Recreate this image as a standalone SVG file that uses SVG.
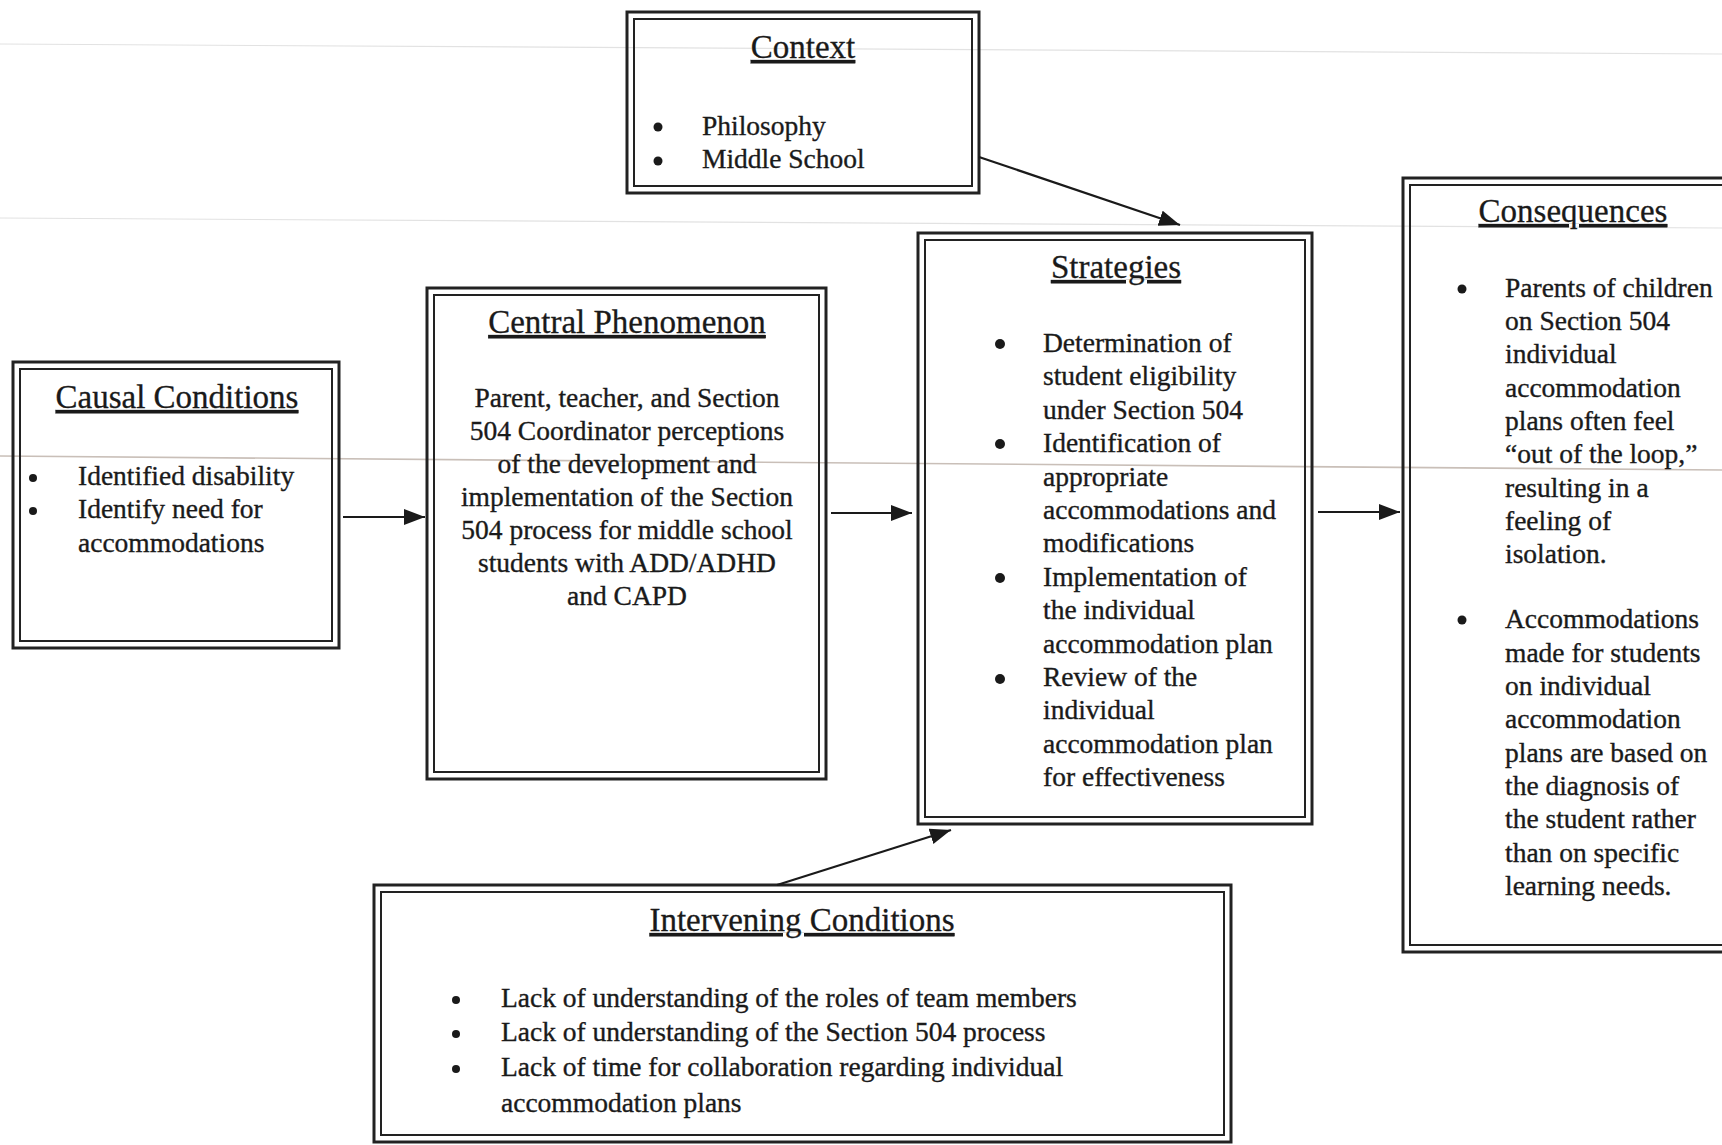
<svg xmlns="http://www.w3.org/2000/svg" width="1722" height="1145" viewBox="0 0 1722 1145">
<defs>
<style>
.o{fill:none;stroke:#222;stroke-width:3}
.i{fill:none;stroke:#222;stroke-width:2}
.t{font-family:"Liberation Serif","Times New Roman",serif;font-size:33px;fill:#1a1a1a;stroke:#1a1a1a;stroke-width:0.3;text-anchor:middle;text-decoration:underline}
.b{font-family:"Liberation Serif","Times New Roman",serif;font-size:27.5px;fill:#1a1a1a;stroke:#1a1a1a;stroke-width:0.35}
.c{text-anchor:middle}
.d{fill:#1a1a1a}
.a{stroke:#1a1a1a;stroke-width:2.2;fill:none}
.s{stroke:#e2e2e2;stroke-width:1.2;fill:none}
</style>
<marker id="ah" markerUnits="userSpaceOnUse" markerWidth="22" markerHeight="18" refX="21" refY="8" orient="auto">
<path d="M0,0 L21,8 L0,16 z" fill="#1a1a1a"/>
</marker>
</defs>
<rect width="1722" height="1145" fill="#fff"/>
<g id="scan-lines">
<path class="s" d="M0,44 L1722,54"/>
<path class="s" d="M0,218 L1722,228"/>
<path d="M0,456 L1722,470" stroke="#c9bfb8" stroke-width="1.6" fill="none"/>
</g>
<g id="context">
<rect class="o" x="627" y="12" width="352" height="181"/>
<rect class="i" x="634" y="19" width="338" height="167"/>
<text class="t" x="803" y="58">Context</text>
<circle class="d" cx="658" cy="127" r="4.5"/>
<circle class="d" cx="658" cy="161" r="4.5"/>
<text class="b" x="702" y="135">Philosophy</text>
<text class="b" x="702" y="168">Middle School</text>
</g>
<g id="causal">
<rect class="o" x="13" y="362" width="326" height="286"/>
<rect class="i" x="20" y="369" width="312" height="272"/>
<text class="t" x="177" y="408">Causal Conditions</text>
<circle class="d" cx="33" cy="478" r="4"/>
<circle class="d" cx="33" cy="511" r="4"/>
<text class="b" x="78" y="485">Identified disability</text>
<text class="b" x="78" y="518">Identify need for</text>
<text class="b" x="78" y="552">accommodations</text>
</g>
<g id="central">
<rect class="o" x="427" y="288" width="399" height="491"/>
<rect class="i" x="434" y="295" width="385" height="477"/>
<text class="t" x="627" y="333">Central Phenomenon</text>
<text class="b c" x="627" y="407">Parent, teacher, and Section</text>
<text class="b c" x="627" y="440">504 Coordinator perceptions</text>
<text class="b c" x="627" y="473">of the development and</text>
<text class="b c" x="627" y="506">implementation of the Section</text>
<text class="b c" x="627" y="539">504 process for middle school</text>
<text class="b c" x="627" y="572">students with ADD/ADHD</text>
<text class="b c" x="627" y="605">and CAPD</text>
</g>
<g id="strategies">
<rect class="o" x="918" y="233" width="394" height="591"/>
<rect class="i" x="925" y="240" width="380" height="577"/>
<text class="t" x="1116" y="278">Strategies</text>
<circle class="d" cx="1000" cy="344" r="5"/>
<circle class="d" cx="1000" cy="444" r="5"/>
<circle class="d" cx="1000" cy="578" r="5"/>
<circle class="d" cx="1000" cy="679" r="5"/>
<text class="b" x="1043" y="352">Determination of</text>
<text class="b" x="1043" y="385">student eligibility</text>
<text class="b" x="1043" y="419">under Section 504</text>
<text class="b" x="1043" y="452">Identification of</text>
<text class="b" x="1043" y="486">appropriate</text>
<text class="b" x="1043" y="519">accommodations and</text>
<text class="b" x="1043" y="552">modifications</text>
<text class="b" x="1043" y="586">Implementation of</text>
<text class="b" x="1043" y="619">the individual</text>
<text class="b" x="1043" y="653">accommodation plan</text>
<text class="b" x="1043" y="686">Review of the</text>
<text class="b" x="1043" y="719">individual</text>
<text class="b" x="1043" y="753">accommodation plan</text>
<text class="b" x="1043" y="786">for effectiveness</text>
</g>
<g id="consequences">
<rect class="o" x="1403" y="178" width="340" height="774"/>
<rect class="i" x="1410" y="185" width="326" height="760"/>
<text class="t" x="1573" y="222">Consequences</text>
<circle class="d" cx="1462" cy="289" r="4.5"/>
<circle class="d" cx="1462" cy="620" r="4.5"/>
<text class="b" x="1505" y="297">Parents of children</text>
<text class="b" x="1505" y="330">on Section 504</text>
<text class="b" x="1505" y="363">individual</text>
<text class="b" x="1505" y="397">accommodation</text>
<text class="b" x="1505" y="430">plans often feel</text>
<text class="b" x="1505" y="463">“out of the loop,”</text>
<text class="b" x="1505" y="497">resulting in a</text>
<text class="b" x="1505" y="530">feeling of</text>
<text class="b" x="1505" y="563">isolation.</text>
<text class="b" x="1505" y="628">Accommodations</text>
<text class="b" x="1505" y="662">made for students</text>
<text class="b" x="1505" y="695">on individual</text>
<text class="b" x="1505" y="728">accommodation</text>
<text class="b" x="1505" y="762">plans are based on</text>
<text class="b" x="1505" y="795">the diagnosis of</text>
<text class="b" x="1505" y="828">the student rather</text>
<text class="b" x="1505" y="862">than on specific</text>
<text class="b" x="1505" y="895">learning needs.</text>
</g>
<g id="intervening">
<rect class="o" x="374" y="885" width="857" height="257"/>
<rect class="i" x="381" y="892" width="843" height="243"/>
<text class="t" x="802" y="931">Intervening Conditions</text>
<circle class="d" cx="456" cy="1000" r="4"/>
<circle class="d" cx="456" cy="1034" r="4"/>
<circle class="d" cx="456" cy="1069" r="4"/>
<text class="b" x="501" y="1007">Lack of understanding of the roles of team members</text>
<text class="b" x="501" y="1041">Lack of understanding of the Section 504 process</text>
<text class="b" x="501" y="1076">Lack of time for collaboration regarding individual</text>
<text class="b" x="501" y="1112">accommodation plans</text>
</g>
<g id="connectors">
<line class="a" x1="343" y1="517" x2="425" y2="517" marker-end="url(#ah)"/>
<line class="a" x1="831" y1="513" x2="912" y2="513" marker-end="url(#ah)"/>
<line class="a" x1="1318" y1="512" x2="1400" y2="512" marker-end="url(#ah)"/>
<line class="a" x1="979" y1="157" x2="1180" y2="225" marker-end="url(#ah)"/>
<line class="a" x1="777" y1="885" x2="951" y2="830" marker-end="url(#ah)"/>
</g>
</svg>
